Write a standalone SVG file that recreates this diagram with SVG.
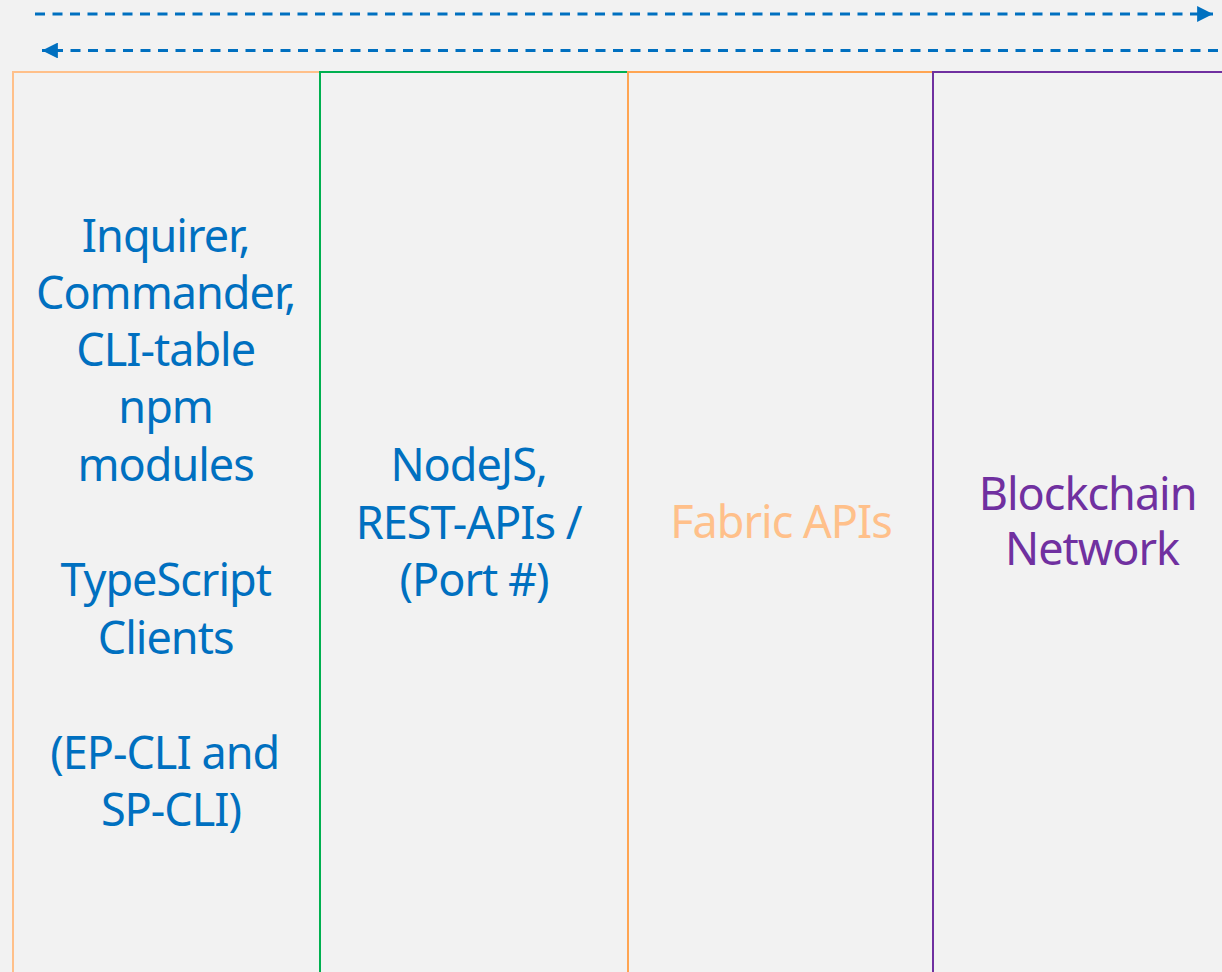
<svg xmlns="http://www.w3.org/2000/svg" width="1222" height="972" viewBox="0 0 1222 972">
<style>
.t{font-family:"Noto Sans","Open Sans","DejaVu Sans",sans-serif;font-size:45px;letter-spacing:-1px;text-anchor:middle}
.blue{fill:#0070C0}
.box{fill:none;stroke-width:2}
.arr{fill:none;stroke:#0070C0;stroke-width:3;stroke-dasharray:10 7.5}
</style>
<defs>
<marker id="ah" viewBox="0 0 10 10" refX="10" refY="5" markerWidth="5.3" markerHeight="5.3" orient="auto" markerUnits="strokeWidth">
<path d="M0,0 L10,5 L0,10 Z" fill="#0070C0"/>
</marker>
</defs>
<rect width="1222" height="972" fill="#F2F2F2"/>
<g id="connectors">
<line class="arr" x1="35" y1="14" x2="1213" y2="14" marker-end="url(#ah)"/>
<line class="arr" x1="1218" y1="50.5" x2="42" y2="50.5" marker-end="url(#ah)"/>
</g>
<g id="clients">
<rect class="box" x="13" y="72" width="307" height="920" stroke="#FFC08A"/>
<text class="t blue">
<tspan x="171" y="252">Inquirer,</tspan>
<tspan x="171" y="309">Commander,</tspan>
<tspan x="171" y="366">CLI-table</tspan>
<tspan x="171" y="423">npm</tspan>
<tspan x="171" y="481">modules</tspan>
<tspan x="171" y="596">TypeScript</tspan>
<tspan x="171" y="654">Clients</tspan>
<tspan x="170" y="769">(EP-CLI and</tspan>
<tspan x="171" y="826">SP-CLI)</tspan>
</text>
</g>
<g id="nodejs">
<rect class="box" x="320" y="72" width="308" height="920" stroke="#00B050"/>
<text class="t blue">
<tspan x="474" y="481">NodeJS,</tspan>
<tspan x="474" y="539">REST-APIs /</tspan>
<tspan x="474" y="596">(Port #)</tspan>
</text>
</g>
<g id="fabric">
<rect class="box" x="628" y="72" width="305" height="920" stroke="#FFA552"/>
<text class="t" fill="#FFC08A" x="781" y="538">Fabric APIs</text>
</g>
<g id="blockchain">
<rect class="box" x="933" y="72" width="310" height="920" stroke="#7030A0"/>
<text class="t" fill="#7030A0">
<tspan x="1093" y="510">Blockchain</tspan>
<tspan x="1092" y="565">Network</tspan>
</text>
</g>
</svg>
